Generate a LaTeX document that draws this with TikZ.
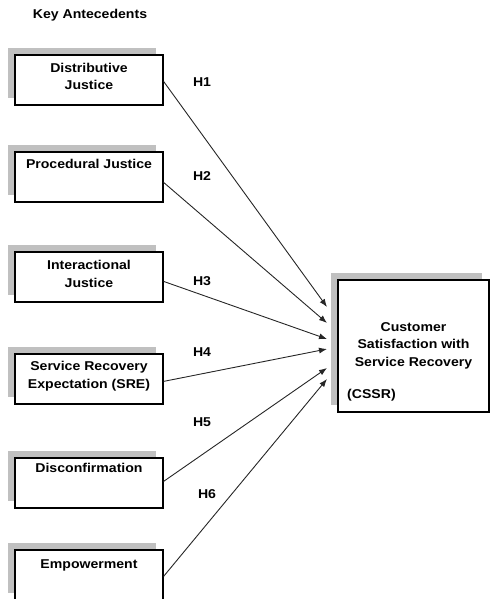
\documentclass[tikz,border=0pt]{standalone}
\usepackage{fontspec}
\setmainfont{Liberation Sans}[FakeStretch=1.1]
\usetikzlibrary{shadows,calc,arrows.meta}
\definecolor{shadowgray}{RGB}{192,192,192}
\begin{document}
\begin{tikzpicture}[x=1pt,y=-1pt,
  font=\fontsize{12.8}{17.5}\selectfont\bfseries,
  box/.style={draw=black, line width=1.2pt, fill=white, minimum width=148pt, minimum height=50pt,
    inner sep=0pt, general shadow={fill=shadowgray, shadow xshift=-7pt, shadow yshift=7pt}},
  bigbox/.style={box, minimum width=151pt, minimum height=132pt},
  lbl/.style={align=center, inner sep=0pt},
  hyp/.style={inner sep=0pt},
  arr/.style={draw=black!85, line width=0.9pt, -{Latex[length=8pt,width=6pt]}}]
\useasboundingbox (0,0) rectangle (490,599);

% heading
\node[lbl] (head) at (90,15) {Key Antecedents};

% antecedent boxes
\node[box] (dj) at (89,80) {};
\node[box] (pj) at (89,177) {};
\node[box] (ij) at (89,277) {};
\node[box] (sre) at (89,379) {};
\node[box] (dc) at (89,483) {};
\node[box] (em) at (89,575) {};

\node[lbl] (djt) at (89,76.5) {Distributive\\Justice};
\node[lbl] (pjt) at (89,164) {Procedural Justice};
\node[lbl] (ijt) at (89,274) {Interactional\\Justice};
\node[lbl] (sret) at (89,376) {Service Recovery\\Expectation (SRE)};
\node[lbl] (dct) at (89,468) {Disconfirmation};
\node[lbl] (emt) at (89,565) {Empowerment};

% outcome box
\node[bigbox] (cs) at (413.5,346) {};
\node[lbl] (cst) at (413.5,345.5) {Customer\\Satisfaction with\\Service Recovery};
\node[lbl, anchor=west] (csa) at (347,395) {(CSSR)};

% arrow end points in front of the outcome box
\coordinate (e1) at (327,307);
\coordinate (e2) at (327,323);
\coordinate (e3) at (327,339);
\coordinate (e4) at (327,349);
\coordinate (e5) at (327,368);
\coordinate (e6) at (327,379);

\draw[arr] ($(dj.north east)+(0,27)$) -- (e1);
\draw[arr] ($(pj.north east)+(0,31)$) -- (e2);
\draw[arr] ($(ij.north east)+(0,30)$) -- (e3);
\draw[arr] ($(sre.north east)+(0,28)$) -- (e4);
\draw[arr] ($(dc.north east)+(0,24)$) -- (e5);
\draw[arr] ($(em.north east)+(0,27)$) -- (e6);

% hypothesis labels
\node[hyp] (h1) at (202,82) {H1};
\node[hyp] (h2) at (202,176) {H2};
\node[hyp] (h3) at (202,281) {H3};
\node[hyp] (h4) at (202,352) {H4};
\node[hyp] (h5) at (202,422) {H5};
\node[hyp] (h6) at (207,494) {H6};
\end{tikzpicture}
\end{document}
